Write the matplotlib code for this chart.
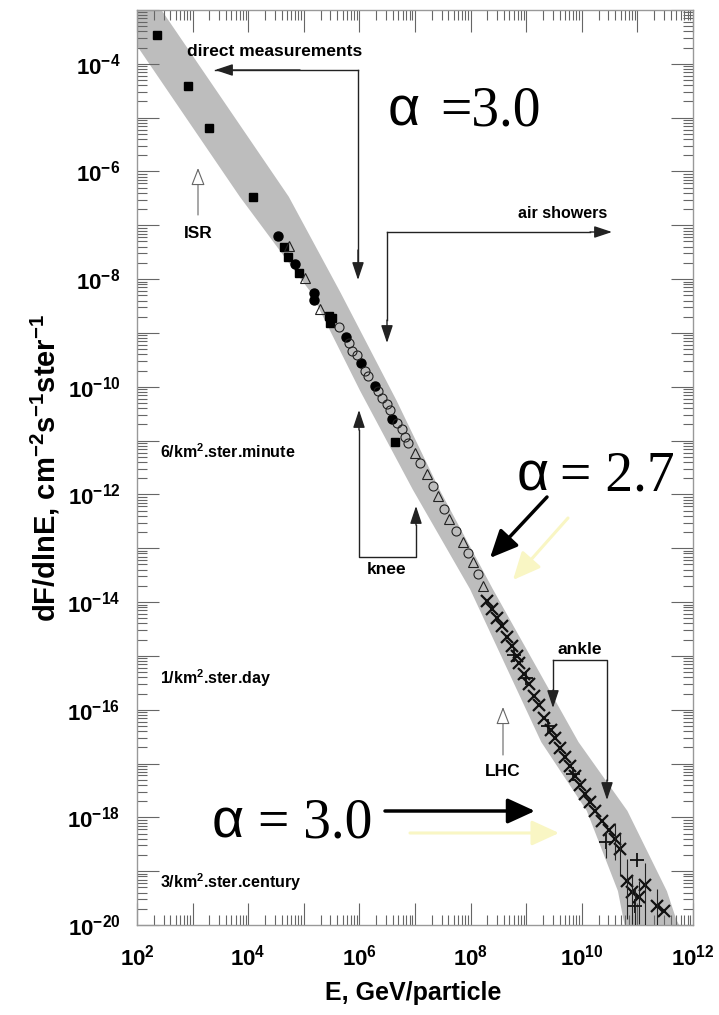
import numpy as np
import matplotlib
matplotlib.use('Agg')
import matplotlib.pyplot as plt
from matplotlib.lines import Line2D
from matplotlib.ticker import LogLocator, NullFormatter

plt.rcParams['font.family'] = ['Liberation Sans', 'DejaVu Sans']
plt.rcParams['mathtext.fontset'] = 'custom'
plt.rcParams['mathtext.rm'] = 'Liberation Sans'
plt.rcParams['mathtext.bf'] = 'Liberation Sans:bold'
plt.rcParams['mathtext.it'] = 'Liberation Sans:italic'

# values, as log10(E / GeV) and log10(dF/dlnE)
band_up_logE = [2.0, 2.44, 4.73, 5.66, 6.67, 7.44, 8.40, 9.94, 10.82, 11.53, 11.70, 11.95]
band_up_logF = [-2.33, -3.0, -6.47, -8.25, -10.26, -11.91, -13.76, -16.60, -17.88, -19.37, -19.90, -20.4]
band_lo_logE = [1.8, 1.99, 3.85, 5.13, 6.01, 6.96, 7.99, 9.27, 10.09, 10.65, 10.75, 10.85]
band_lo_logF = [-3.36, -3.65, -6.47, -8.25, -10.07, -11.91, -13.76, -16.60, -17.88, -19.37, -19.90, -20.4]

sq_logE = [2.36, 2.91, 3.29, 4.09, 4.64, 4.72, 4.91, 5.45, 5.51, 5.48, 6.64]
sq_logF = [-3.47, -4.42, -5.19, -6.47, -7.41, -7.58, -7.89, -8.68, -8.73, -8.82, -11.02]

dot_logE = [4.54, 4.85, 5.18, 5.18, 5.75, 6.02, 6.28, 6.58]
dot_logF = [-7.19, -7.72, -8.25, -8.38, -9.07, -9.55, -9.98, -10.59]

tri_logE = [4.73, 5.03, 5.29, 7.00, 7.21, 7.41, 7.62, 7.86, 8.05, 8.23]
tri_logF = [-7.38, -7.98, -8.56, -11.23, -11.63, -12.03, -12.46, -12.89, -13.26, -13.70]

circ_logE = [5.63, 5.81, 5.87, 5.96, 6.10, 6.16, 6.34, 6.40, 6.49, 6.55, 6.67, 6.76,
             6.82, 6.87, 7.09, 7.32, 7.53, 7.74, 7.95, 8.14]
circ_logF = [-8.89, -9.19, -9.33, -9.41, -9.71, -9.80, -10.07, -10.20, -10.32, -10.44, -10.68, -10.78,
             -10.93, -11.05, -11.41, -11.85, -12.28, -12.68, -13.08, -13.48]

cross_logE = [8.29, 8.38, 8.47, 8.56, 8.65, 8.74, 8.84, 8.87, 8.96, 9.05, 9.14, 9.23, 9.32,
              9.45, 9.51, 9.60, 9.69, 9.79, 9.88, 9.97, 10.06, 10.15, 10.24, 10.37, 10.49,
              10.59, 10.68, 10.81, 10.90, 11.02, 11.14, 11.36, 11.48]
cross_logF = [-13.98, -14.13, -14.29, -14.45, -14.64, -14.82, -15.01, -15.14, -15.33, -15.52,
              -15.74, -15.92, -16.15, -16.37, -16.53, -16.72, -16.88, -17.04, -17.24, -17.40,
              -17.56, -17.72, -17.88, -18.07, -18.24, -18.40, -18.59, -19.18, -19.38, -19.48,
              -19.25, -19.64, -19.74]

plus_logE = [8.78, 9.00, 9.40, 9.85, 10.43, 10.96, 10.99]
plus_logF = [-14.98, -15.42, -16.30, -17.20, -18.46, -19.64, -18.79]

eb_logE = [10.43, 10.59, 10.68, 10.81, 10.90, 10.96, 11.02, 11.14, 11.36]
eb_logF = [-18.46, -18.40, -18.59, -19.18, -19.38, -19.64, -19.48, -19.25, -19.64]
eb_lo = [0.3, 0.4, 0.5, 0.7, 0.6, 0.4, 0.5, 0.8, 0.4]
eb_hi = [0.2, 0.3, 0.3, 0.4, 0.3, 0.3, 0.3, 0.4, 0.3]

x_decades = list(range(2, 13))
y_decades = list(range(-20, -2))

W, H = 719, 1015
fig = plt.figure(figsize=(W / 100, H / 100), dpi=100)
ax = fig.add_axes([137 / W, 1 - 925 / H, (693 - 137) / W, (925 - 10) / H])
ax.set_xscale('log')
ax.set_yscale('log')
ax.set_xlim(1e2, 1e12)
ax.set_ylim(1e-20, 1e-3)

p10 = lambda a: 10.0 ** np.asarray(a)

ax.fill(np.r_[p10(band_up_logE), p10(band_lo_logE)[::-1]],
        np.r_[p10(band_up_logF), p10(band_lo_logF)[::-1]],
        color='#bdbdbd', lw=0, zorder=1)

ax.plot(p10(sq_logE), p10(sq_logF), 's', ms=6, color='black', zorder=3)
ax.plot(p10(dot_logE), p10(dot_logF), 'o', ms=6.5, color='black', zorder=3)
ax.plot(p10(tri_logE), p10(tri_logF), '^', ms=7, mfc='none', mec='#222', mew=0.8, zorder=3)
ax.plot(p10(circ_logE), p10(circ_logF), 'o', ms=6.5, mfc='none', mec='#222', mew=0.8, zorder=3)
ax.plot(p10(cross_logE), p10(cross_logF), 'x', ms=8, color='#111', mew=1.6, zorder=3)
ax.plot(p10(plus_logE), p10(plus_logF), '+', ms=10, color='#111', mew=1.3, zorder=3)
eF = p10(eb_logF)
ax.errorbar(p10(eb_logE), eF,
            yerr=[eF - eF * p10(-np.asarray(eb_lo)), eF * p10(eb_hi) - eF],
            fmt='none', ecolor='#222', elinewidth=0.8, zorder=3)

ax.set_xticks(p10(x_decades))
ax.set_xticklabels([r'$\mathbf{10^{%d}}$' % e if e % 2 == 0 else '' for e in x_decades])
ax.set_yticks(p10(y_decades))
ax.set_yticklabels([r'$\mathbf{10^{%d}}$' % e if e % 2 == 0 else '' for e in y_decades])
for axis in (ax.xaxis, ax.yaxis):
    axis.set_minor_locator(LogLocator(base=10, subs=np.arange(2, 10), numticks=100))
    axis.set_minor_formatter(NullFormatter())
ax.tick_params(which='both', direction='in', top=True, right=True, color='#666', width=0.8)
ax.tick_params(which='major', length=16, labelsize=16)
ax.tick_params(which='minor', length=7)
ax.tick_params(axis='x', pad=14)
ax.tick_params(axis='y', pad=12)
for s in ax.spines.values():
    s.set_color('#999')
    s.set_linewidth(1.0)


# annotation helpers, in picture pixels measured from the top left
def seg(xs, ys, lw=1.0, color='#222'):
    fig.add_artist(Line2D([x / W for x in xs], [1 - y / H for y in ys], lw=lw, color=color))


def arrow(x0, y0, x1, y1, lw=1.0, color='#222', scale=12, hl=0.9, hw=0.3, fc=None):
    ax.annotate('', xy=(x1, H - y1), xytext=(x0, H - y0),
                xycoords='figure pixels', textcoords='figure pixels',
                arrowprops=dict(arrowstyle='-|>,head_length=%g,head_width=%g' % (hl, hw),
                                mutation_scale=scale, lw=lw, color=color,
                                fc=fc if fc else color, shrinkA=0, shrinkB=0))


def label(x, y, s, size=12.5, ha='center', weight='bold', **kw):
    fig.text(x / W, 1 - y / H, s, fontsize=size, ha=ha, va='center', fontweight=weight, **kw)


label(187, 52, 'direct measurements', ha='left')
seg([215, 358], [70, 70])
arrow(300, 70, 215, 70)
seg([358, 358], [70, 270])
arrow(358, 250, 358, 280)

label(563, 214, 'air showers', size=11.5)
seg([387, 590], [232, 232])
arrow(590, 232, 612, 232)
seg([387, 387], [232, 320])
arrow(387, 320, 387, 343)

arrow(198, 215, 198, 168, color='#666', fc='white', lw=0.8, hw=0.35)
label(198, 233, 'ISR')

label(160, 452, r'6/km$^{\mathbf{2}}$.ster.minute', size=11.5, ha='left')
label(160, 678, r'1/km$^{\mathbf{2}}$.ster.day', size=11.5, ha='left')
label(160, 882, r'3/km$^{\mathbf{2}}$.ster.century', size=11.5, ha='left')

seg([359, 359, 416, 416], [430, 557, 557, 525])
arrow(359, 430, 359, 410)
arrow(416, 525, 416, 506)
label(387, 570, 'knee')

label(580, 650, 'ankle')
seg([553, 553], [660, 690])
seg([553, 607, 607], [660, 660, 780])
arrow(553, 690, 553, 708)
arrow(607, 780, 607, 800)

arrow(503, 755, 503, 707, color='#666', fc='white', lw=0.8, hw=0.35)
label(503, 772, 'LHC')

# big alpha annotations
for ax_x, eq_x, base_y, eq in [(388, 440, 126, '=3.0'), (517, 560, 490, '= 2.7'),
                               (212, 258, 838, '= 3.0')]:
    fig.text(ax_x / W, 1 - base_y / H, 'α', fontsize=40, ha='left', va='baseline',
             family='Liberation Sans')
    fig.text(eq_x / W, 1 - base_y / H, eq, fontsize=40, ha='left', va='baseline',
             family='Liberation Serif')

arrow(547, 497, 490, 558, lw=2.5, color='black', scale=14, hl=1.2, hw=0.55)
arrow(568, 518, 513, 580, lw=2.2, color='#f9f6c4', scale=14, hl=1.2, hw=0.55)
arrow(385, 811, 535, 811, lw=2.5, color='black', scale=14, hl=1.2, hw=0.55)
arrow(410, 833, 559, 833, lw=2.2, color='#f9f6c4', scale=14, hl=1.2, hw=0.55)

fig.text(45 / W, 1 - 468 / H, r'dF/dlnE, cm$^{\mathbf{-2}}$s$^{\mathbf{-1}}$ster$^{\mathbf{-1}}$',
         rotation=90, fontsize=21, fontweight='bold', ha='center', va='center')
fig.text(413 / W, 1 - 993 / H, 'E, GeV/particle', fontsize=18, fontweight='bold',
         ha='center', va='center')

fig.savefig('out.png', dpi=100)
